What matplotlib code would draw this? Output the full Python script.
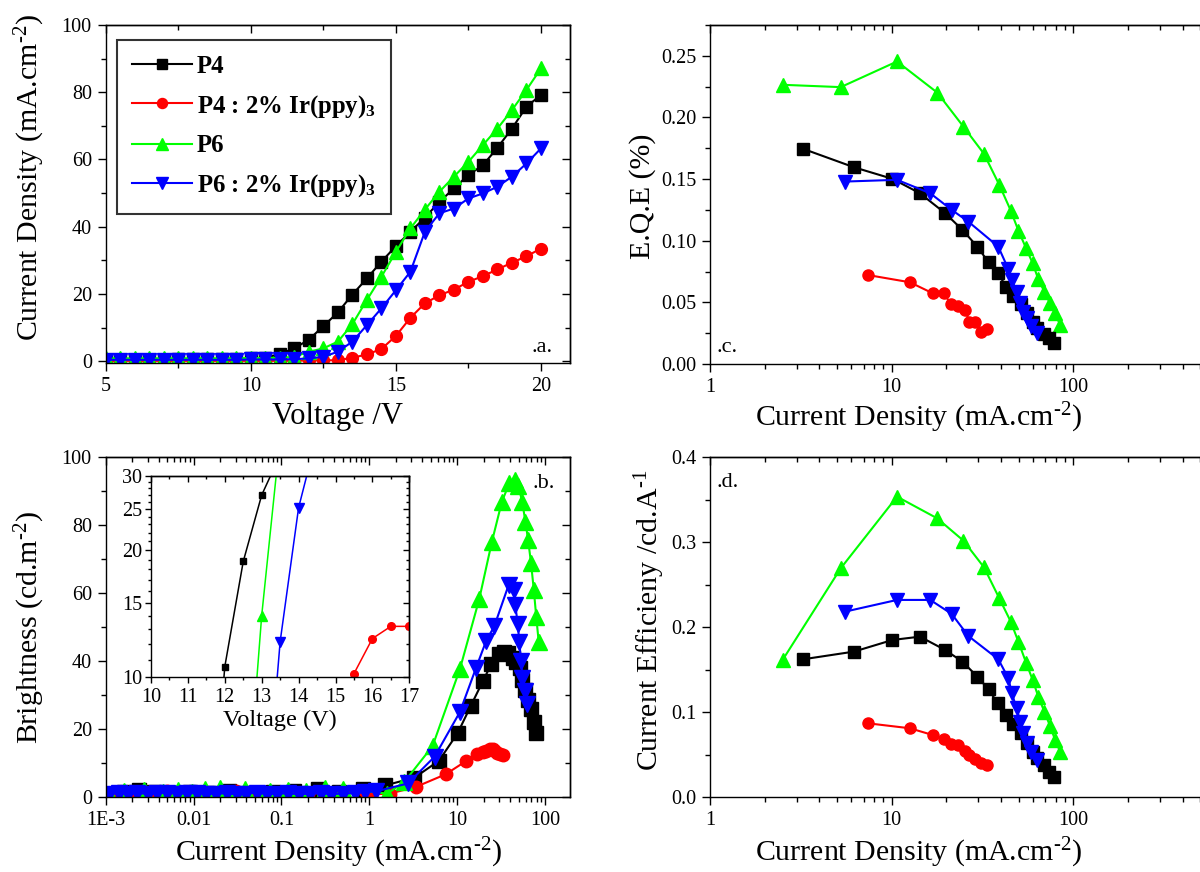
import numpy as np
import matplotlib
matplotlib.use('Agg')
import matplotlib.pyplot as plt
from matplotlib.ticker import (MultipleLocator, FixedLocator, LogLocator,
                               NullFormatter, FuncFormatter, FormatStrFormatter)

plt.rcParams['font.family'] = ['Liberation Serif', 'DejaVu Serif']
plt.rcParams['mathtext.fontset'] = 'custom'
plt.rcParams['mathtext.rm'] = 'Liberation Serif'
plt.rcParams['mathtext.it'] = 'Liberation Serif:italic'
plt.rcParams['mathtext.bf'] = 'Liberation Serif:bold'

# ---------------- data ----------------
series_names = ['P4', 'P4 : 2% Ir(ppy)$_\\mathbf{3}$', 'P6', 'P6 : 2% Ir(ppy)$_\\mathbf{3}$']
colors = ['#000000', '#FF0000', '#00FF00', '#0000FF']
markers = ['s', 'o', '^', 'v']

# panel a : current density vs voltage
voltage = [5, 5.5, 6, 6.5, 7, 7.5, 8, 8.5, 9, 9.5, 10, 10.5, 11, 11.5, 12, 12.5,
           13, 13.5, 14, 14.5, 15, 15.5, 16, 16.5, 17, 17.5, 18, 18.5, 19, 19.5, 20]
p4_jv = [0.3, 0.3, 0.4, 0.4, 0.4, 0.5, 0.5, 0.5, 0.6, 0.7, 0.8, 1.0,
         2.1, 3.8, 6.4, 10.4, 14.5, 19.8, 24.6, 29.6, 34.2, 38.5, 42.7, 47.4,
         51.4, 55.4, 58.3, 63.5, 69.2, 75.7, 79.2]
p4ir_jv = [0.1, 0.1, 0.1, 0.1, 0.1, 0.1, 0.1, 0.1, 0.1, 0.1, 0.1, 0.1, 0.1, 0.1, 0.2, 0.2,
           0.3, 1.0, 2.0, 3.6, 7.5, 12.9, 17.2, 19.6, 21.3, 23.6, 25.3, 27.3, 29.3, 31.2, 33.5]
p6_jv = [0.8, 0.9, 0.8, 0.9, 0.8, 0.9, 0.8, 0.9, 0.8, 0.9, 0.9, 1.0, 1.0, 1.3,
         2.8, 3.8, 5.8, 11.0, 18.2, 25.1, 32.5, 39.5, 45.1, 50.4, 54.9, 59.3, 64.3,
         69.2, 74.7, 80.7, 87.1]
p6ir_jv = [0.4, 0.4, 0.4, 0.4, 0.4, 0.4, 0.4, 0.4, 0.4, 0.4, 0.5, 0.5, 0.5, 0.6,
           0.8, 1.3, 2.8, 5.8, 10.7, 15.7, 21.1, 26.6, 38.5, 44.0, 45.4, 48.4, 49.9,
           51.9, 54.9, 58.8, 63.3]

# current density (high-drive part) used in panels b, c, d
p4_j = [3.26, 6.2, 10.1, 14.3, 19.7, 24.5, 29.6, 34.1, 38.3, 42.6, 46.7, 51.3,
        55.3, 59.7, 63.3, 69.2, 73.8, 78.3]
p4ir_j = [7.38, 12.6, 16.8, 19.4, 21.1, 23.3, 25.3, 26.8, 28.7, 30.9, 33.3]
p6_j = [2.51, 5.24, 10.7, 17.8, 24.8, 32.2, 39.1, 45.2, 49.8, 54.9, 59.7, 64.1,
        69.2, 74.4, 79.3, 84.5]
p6ir_j = [5.53, 10.7, 16.3, 21.4, 26.4, 38.6, 43.9, 45.8, 48.7, 51.0, 53.1, 55.3,
          58.5, 62.8]

# panel b : brightness
p4_b = [5.6, 10.6, 18.7, 26.8, 34.2, 39.1, 42.0, 42.6, 42.2, 41.0, 39.6, 37.8,
        34.5, 31.5, 28.5, 25.8, 22.0, 18.8]
p4ir_b = [6.6, 10.5, 12.6, 13.2, 13.5, 14.2, 14.0, 13.4, 12.9, 12.5, 12.3]
p6_b = [4.4, 14.9, 37.5, 58.2, 75.1, 86.9, 92.3, 93.3, 91.4, 86.9, 81.0, 75.6,
        68.8, 60.9, 53.0, 45.7]
p6ir_b = [11.8, 24.9, 37.8, 46.0, 50.2, 62.5, 61.0, 56.5, 51.0, 45.5, 40.0, 35.0,
          31.0, 27.2]

# panel b : low current-density region
p4_j_low = [1.2e-3, 1.6e-3, 2.4e-3, 3.5e-3, 5.5e-3, 9e-3, 0.015, 0.025, 0.045,
            0.08, 0.14, 0.26, 0.45, 0.85, 1.5]
p4_b_low = [0.9, 1.3, 2.0, 1.5, 1.2, 1.4, 1.1, 1.6, 1.2, 1.4, 1.7, 2.2, 1.5, 2.4, 3.3]
p4ir_j_low = [1.1e-3, 1.5e-3, 2.2e-3, 3.2e-3, 5e-3, 8e-3, 0.013, 0.022, 0.03,
              0.05, 0.1, 0.2, 0.5, 0.9, 1.0, 1.7, 3.4]
p4ir_b_low = [0.9, 1.2, 1.5, 1.3, 1.7, 1.2, 1.5, 1.0, 1.8, 1.3, 0.8, 0.9, 1.2,
              1.6, 0.7, 0.9, 2.9]
p6_j_low = [1.1e-3, 1.6e-3, 2.7e-3, 4.5e-3, 6.7e-3, 0.0096, 0.0135, 0.02, 0.027,
            0.038, 0.06, 0.075, 0.12, 0.19, 0.31, 0.5, 1.6]
p6_b_low = [0.9, 1.6, 1.9, 1.3, 2.0, 1.4, 2.3, 2.6, 1.1, 2.2, 1.0, 1.8, 2.1, 1.7,
            2.6, 2.4, 0.9]
p6ir_j_low = [1.1e-3, 1.4e-3, 1.8e-3, 2.3e-3, 3e-3, 3.8e-3, 5e-3, 6.5e-3, 8.5e-3,
              0.011, 0.014, 0.018, 0.024, 0.031, 0.04, 0.052, 0.068, 0.09, 0.12,
              0.16, 0.21, 0.28, 0.37, 0.5, 0.68, 0.9, 1.2, 2.75]
p6ir_b_low = [0.8, 1.0, 0.9, 1.1, 0.8, 1.0, 1.2, 0.9, 1.0, 1.1, 0.8, 0.9, 1.0, 0.7,
              0.9, 1.2, 0.8, 0.9, 1.0, 0.7, 0.9, 1.0, 0.8, 0.9, 1.1, 1.3, 1.6, 3.9]

# panel c : EQE (%)
p4_eqe = [0.1745, 0.1596, 0.1502, 0.1385, 0.1223, 0.1088, 0.0952, 0.0825, 0.0741,
          0.0628, 0.0552, 0.0487, 0.0417, 0.0344, 0.029, 0.0241, 0.0208, 0.0173]
p4ir_eqe = [0.0722, 0.0663, 0.0574, 0.0574, 0.0487, 0.0471, 0.0438, 0.0344,
            0.0344, 0.0262, 0.0281]
p6_eqe = [0.2265, 0.2246, 0.2454, 0.2202, 0.1926, 0.1705, 0.1453, 0.1245, 0.1082,
          0.0939, 0.0817, 0.0687, 0.0587, 0.0492, 0.0411, 0.0317]
p6ir_eqe = [0.148, 0.1494, 0.1385, 0.125, 0.1155, 0.0952, 0.0768, 0.0682, 0.0587,
            0.0498, 0.0425, 0.0371, 0.031, 0.0249]

# panel d : current efficiency (cd/A)
p4_ce = [0.1624, 0.1714, 0.1851, 0.189, 0.1733, 0.1596, 0.142, 0.1271, 0.1106,
         0.0969, 0.0863, 0.0753, 0.0635, 0.0537, 0.0459, 0.038, 0.0302, 0.0243]
p4ir_ce = [0.0871, 0.0812, 0.0733, 0.0682, 0.0627, 0.0616, 0.0549, 0.0498,
           0.0447, 0.0408, 0.038]
p6_ce = [0.1616, 0.2694, 0.3537, 0.3282, 0.302, 0.2706, 0.2341, 0.2067, 0.1831,
         0.1584, 0.138, 0.1184, 0.1008, 0.0839, 0.0675, 0.0537]
p6ir_ce = [0.2184, 0.2322, 0.2322, 0.2157, 0.1898, 0.1624, 0.14, 0.1224, 0.1047,
           0.089, 0.0753, 0.0635, 0.0537, 0.0439]

# inset : brightness vs voltage
ins_p4_v = [11.5, 12, 12.5, 13, 13.5]
ins_p4_b = [3.0, 10.6, 18.8, 27.0, 33.6]
ins_p4ir_v = [15, 15.5, 16, 16.5, 17]
ins_p4ir_b = [7.0, 10.2, 12.35, 13.2, 13.2]
ins_p6_v = [12.5, 13, 13.5]
ins_p6_b = [3.8, 14.0, 37.0]
ins_p6ir_v = [13, 13.5, 14, 14.5]
ins_p6ir_b = [3.6, 12.15, 25.2, 37.4]

# ---------------- figure ----------------
W, H = 1200, 872
fig = plt.figure(figsize=(W / 100, H / 100), dpi=100)


def px_axes(l, t, r, b):
    return fig.add_axes([l / W, 1 - b / H, (r - l) / W, (b - t) / H])


TICK_FS = 14.5
LABEL_FS = 21.5


def frame(ax, xmaj=None, xmin=None, ymaj=None, ymin=None, logx=False,
          fs=TICK_FS, maj_len=6, min_len=3.5):
    for s in ax.spines.values():
        s.set_linewidth(1.0)
        s.set_color('black')
    ax.tick_params(which='both', direction='out', top=False, right=False,
                   labelsize=fs, width=1.0, pad=4)
    ax.tick_params(which='major', length=maj_len)
    ax.tick_params(which='minor', length=min_len)
    if xmaj is not None:
        ax.xaxis.set_major_locator(xmaj)
    if xmin is not None:
        ax.xaxis.set_minor_locator(xmin)
    if ymaj is not None:
        ax.yaxis.set_major_locator(ymaj)
    if ymin is not None:
        ax.yaxis.set_minor_locator(ymin)
    # mirrored ticks pointing inward on top and right
    sx = ax.secondary_xaxis('top')
    sx.tick_params(which='both', direction='in', width=1.0)
    sx.tick_params(which='major', length=maj_len)
    sx.tick_params(which='minor', length=min_len)
    if logx:
        sx.xaxis.set_major_locator(LogLocator(base=10, numticks=20))
        sx.xaxis.set_minor_locator(LogLocator(base=10, subs=np.arange(2, 10), numticks=20))
    else:
        sx.xaxis.set_major_locator(xmaj)
        if xmin is not None:
            sx.xaxis.set_minor_locator(xmin)
    sx.xaxis.set_major_formatter(NullFormatter())
    sx.xaxis.set_minor_formatter(NullFormatter())
    sy = ax.secondary_yaxis('right')
    sy.tick_params(which='both', direction='in', width=1.0)
    sy.tick_params(which='major', length=maj_len)
    sy.tick_params(which='minor', length=min_len)
    sy.yaxis.set_major_locator(ymaj)
    if ymin is not None:
        sy.yaxis.set_minor_locator(ymin)
    sy.yaxis.set_major_formatter(NullFormatter())
    sy.yaxis.set_minor_formatter(NullFormatter())
    for s in list(sx.spines.values()) + list(sy.spines.values()):
        s.set_linewidth(1.0)


def ftext(x, y, s, **kw):
    fig.text(x / W, 1 - y / H, s, **kw)


# ---------- panel a ----------
axa = px_axes(105.7, 25, 570, 363.5)
jv = [p4_jv, p4ir_jv, p6_jv, p6ir_jv]
ms_a = [8.3, 8.5, 9.8, 9.8]
for i in range(4):
    axa.plot(voltage, jv[i], color=colors[i], marker=markers[i], ms=ms_a[i],
             mec=colors[i], lw=1.5, label=series_names[i])
axa.set_xlim(5, 21)
axa.set_ylim(-0.7, 100)
frame(axa, MultipleLocator(5), MultipleLocator(2.5), MultipleLocator(20), MultipleLocator(10))
leg = axa.legend(loc='upper left', bbox_to_anchor=(0.0237, 0.9557), borderaxespad=0,
                 frameon=True, fancybox=False, edgecolor='black',
                 prop={'family': 'Liberation Serif', 'weight': 'bold', 'size': 17.8},
                 handlelength=2.45, handletextpad=0.2, labelspacing=0.6,
                 borderpad=0.6, markerscale=0.85)
leg.get_frame().set_linewidth(1.5)
axa.text(19.69, 2.8, '.a.', fontsize=16, ha='left', va='baseline')

# ---------- panel b ----------
axb = px_axes(105.7, 457.3, 570, 796.7)
jb_low = [p4_j_low, p4ir_j_low, p6_j_low, p6ir_j_low]
bb_low = [p4_b_low, p4ir_b_low, p6_b_low, p6ir_b_low]
jb = [p4_j, p4ir_j, p6_j, p6ir_j]
bb = [p4_b, p4ir_b, p6_b, p6ir_b]
ms_b = [9.5, 9.0, 11.5, 11.5]
for i in range(4):
    axb.plot(list(jb_low[i]) + list(jb[i]), list(bb_low[i]) + list(bb[i]),
             color=colors[i], marker=markers[i], ms=ms_b[i], mec=colors[i], lw=1.5)
axb.set_xscale('log')
axb.set_xlim(1e-3, 192)
axb.set_ylim(0, 100)
blabels = {1e-3: '1E-3', 1e-2: '0.01', 1e-1: '0.1', 1: '1', 10: '10', 100: '100'}
frame(axb, LogLocator(base=10, numticks=20),
      LogLocator(base=10, subs=np.arange(2, 10), numticks=20),
      MultipleLocator(20), MultipleLocator(10), logx=True)
axb.xaxis.set_major_formatter(FuncFormatter(
    lambda v, p: min(blabels.items(), key=lambda kv: abs(np.log10(kv[0]) - np.log10(v)))[1]
    if v > 0 else ''))
axb.xaxis.set_minor_formatter(NullFormatter())
axb.text(72, 90.9, '.b.', fontsize=16, ha='left', va='baseline')

# inset
axi = px_axes(151, 475.7, 409.3, 677.3)
axi.set_zorder(5)
axi.patch.set_facecolor('white')
ins_v = [ins_p4_v, ins_p4ir_v, ins_p6_v, ins_p6ir_v]
ins_b = [ins_p4_b, ins_p4ir_b, ins_p6_b, ins_p6ir_b]
ms_i = [5, 5.5, 6.5, 6.5]
for i in range(4):
    axi.plot(ins_v[i], ins_b[i], color=colors[i], marker=markers[i], ms=ms_i[i],
             mec=colors[i], lw=1.1)
axi.set_yscale('log')
axi.set_xlim(10, 17)
axi.set_ylim(10, 30)
frame(axi, MultipleLocator(1), MultipleLocator(0.5),
      FixedLocator([10, 15, 20, 25, 30]), FixedLocator(np.arange(10, 31)),
      fs=14.5, maj_len=4.5, min_len=2.5)
axi.yaxis.set_major_formatter(FormatStrFormatter('%d'))
axi.yaxis.set_minor_formatter(NullFormatter())
axi.tick_params(axis='y', pad=2)
axi.tick_params(axis='x', pad=3)
ftext(280, 720, 'Voltage (V)', fontsize=17.5, ha='center', va='center')

# ---------- panel c ----------
axc = px_axes(710, 25, 1215, 364)
jc = [p4_j, p4ir_j, p6_j, p6ir_j]
eq = [p4_eqe, p4ir_eqe, p6_eqe, p6ir_eqe]
ms_c = [8.0, 8.0, 10.5, 10.0]
order = [2, 0, 3, 1]
for i in order:
    axc.plot(jc[i], eq[i], color=colors[i], marker=markers[i], ms=ms_c[i],
             mec=colors[i], lw=1.5)
axc.set_xscale('log')
axc.set_xlim(1, 10 ** (505 / 181.7))
axc.set_ylim(0, 0.275)
frame(axc, LogLocator(base=10, numticks=20),
      LogLocator(base=10, subs=np.arange(2, 10), numticks=20),
      MultipleLocator(0.05), MultipleLocator(0.025), logx=True)
axc.xaxis.set_major_formatter(FuncFormatter(lambda v, p: '%g' % v))
axc.xaxis.set_minor_formatter(NullFormatter())
axc.yaxis.set_major_formatter(FormatStrFormatter('%.2f'))
axc.text(1.09, 0.010, '.c.', fontsize=16, ha='left', va='baseline')

# ---------- panel d ----------
axd = px_axes(710, 457.3, 1215, 797.3)
ce = [p4_ce, p4ir_ce, p6_ce, p6ir_ce]
for i in order:
    axd.plot(jc[i], ce[i], color=colors[i], marker=markers[i], ms=ms_c[i],
             mec=colors[i], lw=1.5)
axd.set_xscale('log')
axd.set_xlim(1, 10 ** (505 / 181.7))
axd.set_ylim(0, 0.4)
frame(axd, LogLocator(base=10, numticks=20),
      LogLocator(base=10, subs=np.arange(2, 10), numticks=20),
      MultipleLocator(0.1), MultipleLocator(0.05), logx=True)
axd.xaxis.set_major_formatter(FuncFormatter(lambda v, p: '%g' % v))
axd.xaxis.set_minor_formatter(NullFormatter())
axd.yaxis.set_major_formatter(FormatStrFormatter('%.1f'))
axd.text(1.09, 0.365, '.d.', fontsize=16, ha='left', va='baseline')

# ---------- axis labels ----------
cd_label = 'Current Density (mA.cm$^{\\text{-2}}$)'
ftext(30, 178, cd_label, fontsize=LABEL_FS, rotation=90, ha='center', va='center')
ftext(338, 416, 'Voltage /V', fontsize=LABEL_FS + 0.5, ha='center', va='center')
ftext(30, 627, 'Brightness (cd.m$^{\\text{-2}}$)', fontsize=LABEL_FS,
      rotation=90, ha='center', va='center')
ftext(338, 853, cd_label, fontsize=LABEL_FS, ha='center', va='center')
ftext(643, 196, 'E.Q.E (%)', fontsize=LABEL_FS, rotation=90, ha='center', va='center')
ftext(918, 418, cd_label, fontsize=LABEL_FS, ha='center', va='center')
ftext(650, 620, 'Current Efficieny /cd.A$^{\\text{-1}}$', fontsize=LABEL_FS,
      rotation=90, ha='center', va='center')
ftext(918, 853, cd_label, fontsize=LABEL_FS, ha='center', va='center')

fig.savefig('out.png', dpi=100)
